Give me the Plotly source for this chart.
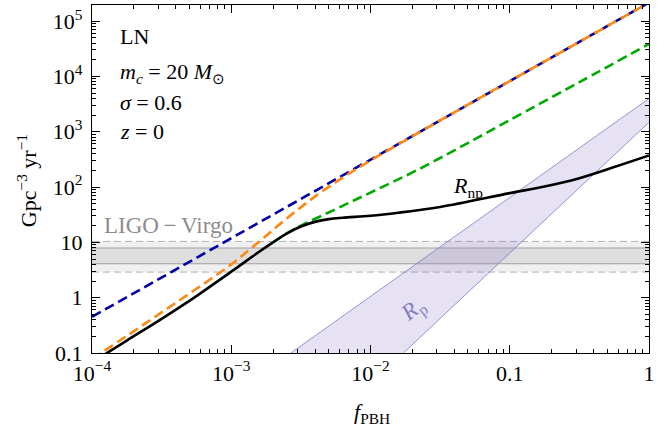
import plotly.graph_objects as go

# ---- data ----
blue_x = [1e-4, 1e-3, 1e-2, 0.1, 1.0]
blue_y = [0.451, 11.86, 311.9, 8204, 2.158e5]

orange_x = [1e-4, 1.778e-4, 3.162e-4, 5.623e-4, 1e-3, 1.585e-3, 2.512e-3,
            3.981e-3, 6.310e-3, 1e-2, 3.162e-2, 0.1, 1.0]
orange_y = [0.0783, 0.2037, 0.542, 1.45, 4.0, 10.3, 27.2,
            66.99, 147.9, 301.3, 1600, 8204, 2.158e5]

green_x = [1.995e-3, 2.512e-3, 3.162e-3, 5.623e-3, 1e-2, 2.138e-2,
           5.623e-2, 0.1, 0.3162, 1.0]
green_y = [10.0, 14.5, 19.95, 39.81, 79.43, 199.5, 732.8, 1622, 7852, 38550]

black_x = [1e-4, 1.778e-4, 3.162e-4, 5.623e-4, 1e-3, 1.585e-3,
           1.995e-3, 2.512e-3, 3.162e-3, 3.981e-3, 5.012e-3, 6.310e-3,
           1e-2, 1.585e-2, 3.162e-2, 0.1, 0.1778, 0.3162, 0.5623, 1.0]
black_y = [0.0676, 0.168, 0.415, 1.07, 2.95, 6.75,
           10.0, 14.5, 19.30, 23.44, 26.30, 27.86,
           30.20, 34.28, 43.65, 77.62, 102.3, 144.5, 229.1, 371.5]

# R_p band edges
rp_upper_x = [2.679e-3, 1.0]
rp_upper_y = [0.1, 3981]
rp_lower_x = [0.01722, 1.0]
rp_lower_y = [0.1, 1479]

# LIGO-Virgo band
ligo_x = [1e-4, 1.0]
ligo_outer = [2.9, 10.4]
ligo_inner = [4.1, 7.9]

x_tickvals = [1e-4, 1e-3, 1e-2, 0.1, 1]
x_ticktext = ["10<sup>\u22124</sup>", "10<sup>\u22123</sup>", "10<sup>\u22122</sup>", "0.1", "1"]
y_tickvals = [0.1, 1, 10, 100, 1e3, 1e4, 1e5]
y_ticktext = ["0.1", "1", "10", "10<sup>2</sup>", "10<sup>3</sup>", "10<sup>4</sup>", "10<sup>5</sup>"]

FONT = "Liberation Serif"
DASH = "10px,5px"

fig = go.Figure()

# LIGO outer band
fig.add_trace(go.Scatter(x=ligo_x, y=[ligo_outer[1]] * 2, mode="lines",
                         line=dict(color="#b0b0b0", width=1, dash="7px,4px")))
fig.add_trace(go.Scatter(x=ligo_x, y=[ligo_outer[0]] * 2, mode="lines",
                         line=dict(color="#b0b0b0", width=1, dash="7px,4px"),
                         fill="tonexty", fillcolor="rgb(240,240,240)"))
# LIGO inner band
fig.add_trace(go.Scatter(x=ligo_x, y=[ligo_inner[1]] * 2, mode="lines",
                         line=dict(color="#a0a0a0", width=1)))
fig.add_trace(go.Scatter(x=ligo_x, y=[ligo_inner[0]] * 2, mode="lines",
                         line=dict(color="#a0a0a0", width=1),
                         fill="tonexty", fillcolor="rgb(222,222,222)"))

# R_p band
fig.add_trace(go.Scatter(x=rp_upper_x + rp_lower_x[::-1], y=rp_upper_y + rp_lower_y[::-1],
                         mode="lines", line=dict(width=0), fill="toself",
                         fillcolor="rgba(140,125,205,0.22)"))
fig.add_trace(go.Scatter(x=rp_upper_x, y=rp_upper_y, mode="lines",
                         line=dict(color="rgb(130,120,200)", width=0.8)))
fig.add_trace(go.Scatter(x=rp_lower_x, y=rp_lower_y, mode="lines",
                         line=dict(color="rgb(130,120,200)", width=0.8)))

# curves
fig.add_trace(go.Scatter(x=blue_x, y=blue_y, mode="lines",
                         line=dict(color="rgb(0,0,165)", width=2.6, dash=DASH)))
fig.add_trace(go.Scatter(x=orange_x, y=orange_y, mode="lines", line_shape="spline",
                         line=dict(color="rgb(255,135,20)", width=2.6, dash=DASH)))
fig.add_trace(go.Scatter(x=green_x, y=green_y, mode="lines", line_shape="spline",
                         line=dict(color="rgb(0,170,0)", width=2.6, dash=DASH)))
fig.add_trace(go.Scatter(x=black_x, y=black_y, mode="lines", line_shape="spline",
                         line=dict(color="black", width=2.6)))

minor_x = [m * 10 ** k for k in range(-4, 0) for m in range(2, 10)]
minor_y = [m * 10 ** k for k in range(-1, 6) for m in range(2, 10)]

axis_common = dict(type="log", showgrid=False, zeroline=False, showline=True,
                   linecolor="black", linewidth=1.2, mirror="allticks",
                   ticks="inside", ticklen=8, tickwidth=1, tickcolor="black",
                   ticklabeloverflow="allow",
                   tickfont=dict(family=FONT, size=22, color="black"))

fig.update_xaxes(**axis_common, range=[-4, 0], tickmode="array",
                 tickvals=x_tickvals, ticktext=x_ticktext,
                 minor=dict(tickmode="array", tickvals=minor_x, ticks="inside",
                            ticklen=4, tickcolor="black", tickwidth=0.8))
fig.update_yaxes(**axis_common, range=[-1, 5.29], tickmode="array",
                 tickvals=y_tickvals, ticktext=y_ticktext, ticklabelstandoff=4,
                 minor=dict(tickmode="array", tickvals=minor_y, ticks="inside",
                            ticklen=4, tickcolor="black", tickwidth=0.8))

ann = []
def add_text(text, x, y, size=22, color="black", xanchor="left", angle=0):
    ann.append(dict(text=text, x=x, y=y, xref="paper", yref="paper", showarrow=False,
                    xanchor=xanchor, yanchor="middle", textangle=angle,
                    font=dict(family=FONT, size=size, color=color)))

W, H = 563.0, 349.0
def px(xp, yp):
    return ((xp - 92) / W, (353 - yp) / H)

for txt, yy in [("LN", 36),
                ("<i>m</i><sub><i>c</i></sub> = 20 <i>M</i><sub>\u2299</sub>", 72),
                ("<i>\u03c3</i> = 0.6", 102),
                ("<i>z</i> = 0", 131)]:
    a, b = px(118, yy)
    add_text(txt, a, b)

a, b = px(102, 225)
add_text("LIGO\u2009\u2212\u2009Virgo", a, b, size=23, color="rgb(140,140,140)")
a, b = px(472, 187)
add_text("<i>R</i><sub>np</sub>", a, b, xanchor="center")
a, b = px(417, 310)
add_text("<i>R</i><sub>p</sub>", a, b, size=23, xanchor="center", color="rgb(135,125,195)", angle=-38)
a, b = px(27, 180)
add_text("Gpc<sup>\u22123</sup> yr<sup>\u22121</sup>", a, b, xanchor="center", angle=-90)
a, b = px(375, 413)
add_text("<i>f</i><sub>PBH</sub>", a, b, xanchor="center")

fig.update_layout(width=659, height=428, margin=dict(l=92, r=4, t=4, b=75),
                  paper_bgcolor="white", plot_bgcolor="white", showlegend=False,
                  hovermode=False, annotations=ann,
                  font=dict(family=FONT, size=22, color="black"))

fig.write_html("out.html", config={"displayModeBar": False},
               post_script="document.body.style.margin='0px';")
